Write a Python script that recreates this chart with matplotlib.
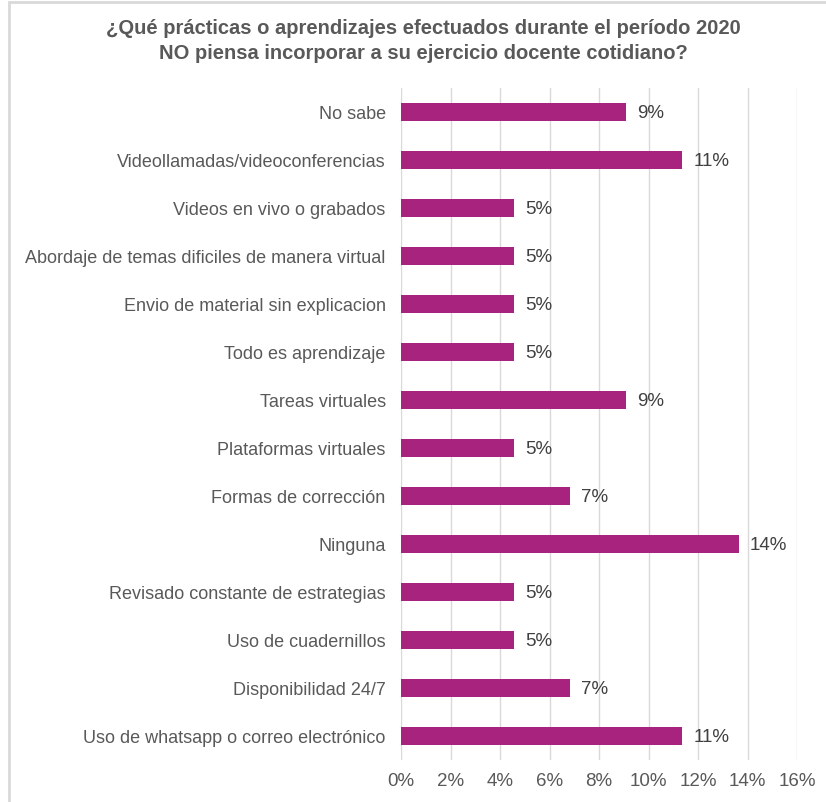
import matplotlib.pyplot as plt
import matplotlib.ticker as ticker
from matplotlib.patches import Rectangle

plt.rcParams["font.family"] = ["Liberation Sans", "DejaVu Sans"]

# Data (share of respondents, %)
categories = [
    "No sabe",
    "Videollamadas/videoconferencias",
    "Videos en vivo o grabados",
    "Abordaje de temas dificiles de manera virtual",
    "Envio de material sin explicacion",
    "Todo es aprendizaje",
    "Tareas virtuales",
    "Plataformas virtuales",
    "Formas de corrección",
    "Ninguna",
    "Revisado constante de estrategias",
    "Uso de cuadernillos",
    "Disponibilidad 24/7",
    "Uso de whatsapp o correo electrónico",
]
values = [9.09, 11.36, 4.55, 4.55, 4.55, 4.55, 9.09, 4.55, 6.82, 13.64, 4.55, 4.55, 6.82, 11.36]
xticks = [0, 2, 4, 6, 8, 10, 12, 14, 16]

bar_color = "#A8237E"
text_color = "#595959"
grid_color = "#D9D9D9"

fig = plt.figure(figsize=(8.26, 8.02), dpi=100)
ax = fig.add_axes([401 / 826, 1 - 760 / 802, 396 / 826, 672 / 802])

ypos = list(range(len(categories)))
ax.barh(ypos, values, height=0.37, color=bar_color, zorder=3)
for y, v in zip(ypos, values):
    ax.text(v + 0.45, y + 0.03, f"{v:.0f}%", va="center", ha="left",
            fontsize=13.5, color="#404040")

ax.set_xlim(0, 16)
ax.set_ylim(len(categories) - 0.5, -0.5)
ax.set_xticks(xticks)
ax.xaxis.set_major_formatter(ticker.FuncFormatter(lambda x, _: f"{x:.0f}%"))
ax.set_yticks(ypos)
ax.set_yticklabels(categories)
ax.tick_params(axis="both", length=0, colors=text_color)
ax.tick_params(axis="y", pad=11, labelsize=13)
ax.tick_params(axis="x", pad=9, labelsize=13.5)
ax.grid(axis="x", color=grid_color, linewidth=1, zorder=0)
for s in ax.spines.values():
    s.set_visible(False)

fig.text(423 / 826, 1 - 41 / 802,
         "¿Qué prácticas o aprendizajes efectuados durante el período 2020\n"
         "NO piensa incorporar a su ejercicio docente cotidiano?",
         ha="center", va="center", fontsize=14.5, fontweight="bold",
         color=text_color, linespacing=1.4)

# light frame around the chart
fig.patches.append(Rectangle((9 / 826, -0.01), 1.02, 1 - 2 / 802 + 0.01,
                             transform=fig.transFigure, fill=False,
                             edgecolor=grid_color, linewidth=2))

fig.savefig("out.png", dpi=100)
